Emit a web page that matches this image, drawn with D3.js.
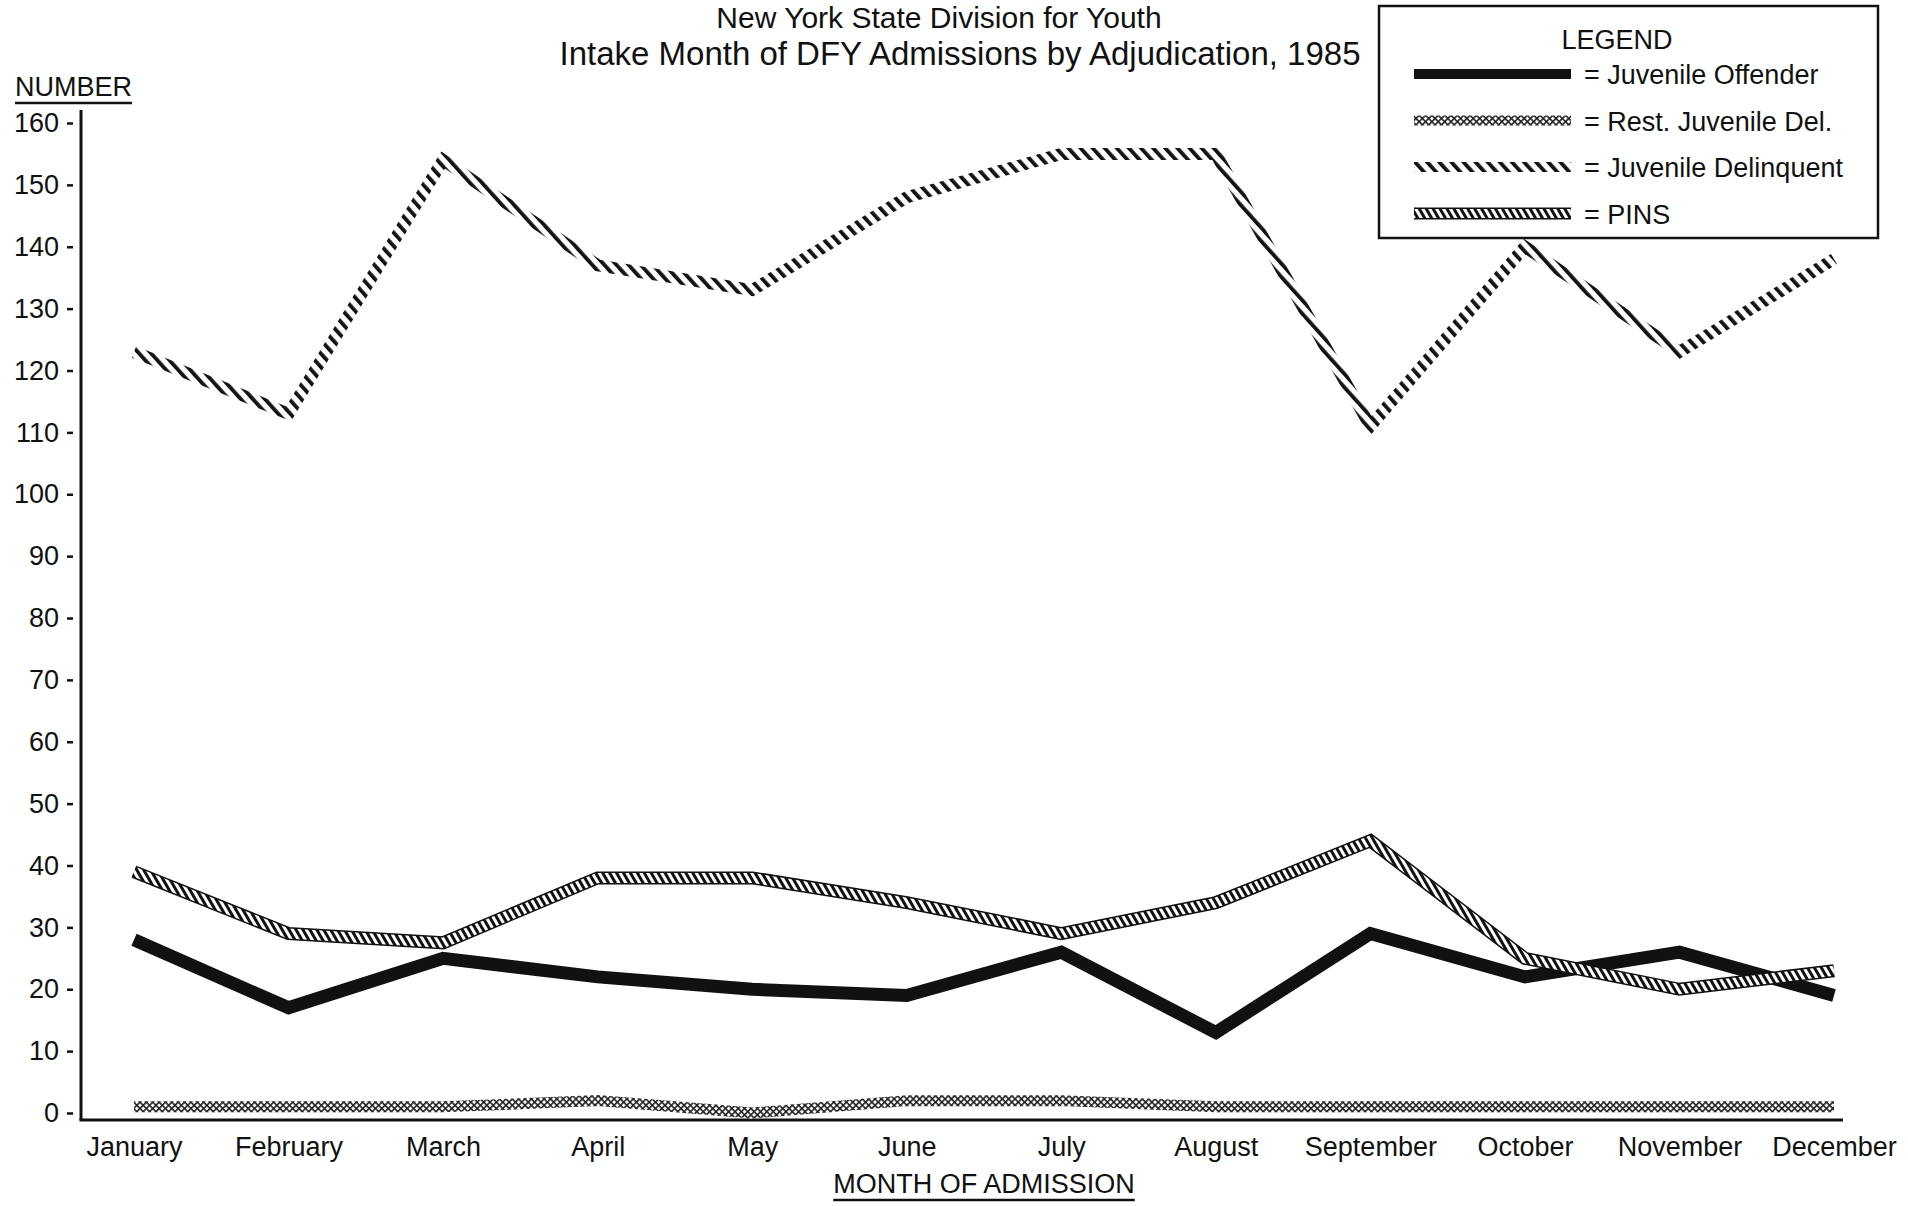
<!DOCTYPE html>
<html>
<head>
<meta charset="utf-8">
<script src="https://cdn.jsdelivr.net/npm/d3@7"></script>
<style>
  body { margin: 0; background: #fff; }
  svg text { font-family: "Liberation Sans", Arial, Helvetica, sans-serif; fill: #111; }
  .axis text { font-size: 27px; }
  .axis line { stroke: #111; stroke-width: 2.5; }
  .title { text-anchor: middle; }
  .label { font-size: 27px; }
  .legend text { font-size: 27px; }
</style>
</head>
<body>
<svg id="chart" width="1908" height="1206"></svg>
<script>
// data
var months = ["January", "February", "March", "April", "May", "June",
              "July", "August", "September", "October", "November", "December"];
var yTicks = [0, 10, 20, 30, 40, 50, 60, 70, 80, 90, 100, 110, 120, 130, 140, 150, 160];

var juvOffender   = [28, 17, 25, 22, 20, 19, 26, 13, 29, 22, 26, 19];
var restJuvDel    = [1, 1, 1, 2, 0, 2, 2, 1, 1, 1, 1, 1];
var juvDelinquent = [123, 113, 154, 137, 133, 148, 155, 155, 111, 140, 123, 138];
var pins          = [39, 29, 27.5, 38, 38, 34, 29, 34, 44, 25, 20, 23];

var seriesNames = ["Juvenile Offender", "Rest. Juvenile Del.", "Juvenile Delinquent", "PINS"];
var titleLines  = ["New York State Division for Youth",
                   "Intake Month of DFY Admissions by Adjudication, 1985"];

var r = {};
r.svg    = d3.select("#chart");
r.W      = +r.svg.attr("width");
r.H      = +r.svg.attr("height");
r.margin = {top: 123, right: 74, bottom: 93, left: 134};
r.axisGap = 53;   // y axis sits left of January

r.x = d3.scalePoint()
    .domain(months)
    .range([r.margin.left, r.W - r.margin.right]);

r.y = d3.scaleLinear()
    .domain([0, 160])
    .range([r.H - r.margin.bottom, r.margin.top]);

var axisX = r.margin.left - r.axisGap,
    baseY = r.y(0) + 7;

// patterns for the hatched lines
var defs = r.svg.append("defs");

var pRjd = defs.append("pattern")
    .attr("id", "pat-rjd")
    .attr("patternUnits", "userSpaceOnUse")
    .attr("width", 4.5).attr("height", 4.5)
    .attr("patternTransform", "rotate(45)");
pRjd.append("rect").attr("width", 4.5).attr("height", 4.5).attr("fill", "#fff");
pRjd.append("rect").attr("width", 4.5).attr("height", 1.6).attr("fill", "#222");
pRjd.append("rect").attr("width", 1.6).attr("height", 4.5).attr("fill", "#222");

var pJd = defs.append("pattern")
    .attr("id", "pat-jd")
    .attr("patternUnits", "userSpaceOnUse")
    .attr("width", 9).attr("height", 20)
    .attr("patternTransform", "rotate(-42)");
pJd.append("rect").attr("width", 3.8).attr("height", 20).attr("fill", "#111");

var pPins = defs.append("pattern")
    .attr("id", "pat-pins")
    .attr("patternUnits", "userSpaceOnUse")
    .attr("width", 6).attr("height", 20)
    .attr("patternTransform", "rotate(-30)");
pPins.append("rect").attr("width", 6).attr("height", 20).attr("fill", "#fff");
pPins.append("rect").attr("width", 3).attr("height", 20).attr("fill", "#111");

var styles = [
  {vals: juvOffender,   stroke: "#111",            width: 13, outline: 0},
  {vals: restJuvDel,    stroke: "url(#pat-rjd)",   width: 11, outline: 0},
  {vals: juvDelinquent, stroke: "url(#pat-jd)",    width: 12, outline: 0},
  {vals: pins,          stroke: "url(#pat-pins)",  width: 10, outline: 13}
];

// title (first line pulled down a little so it is not clipped)
r.svg.selectAll("text.title")
    .data(titleLines)
  .enter().append("text")
    .attr("class", "title")
    .attr("x", function(d, i) { return i === 0 ? 939 : 960; })
    .attr("y", function(d, i) { return i === 0 ? 28 : 65; })
    .style("font-size", function(d, i) { return i === 0 ? "30px" : "33px"; })
    .text(function(d) { return d; });

// y axis
var gy = r.svg.append("g")
    .attr("class", "axis axis--y")
    .attr("transform", "translate(" + (axisX - 8) + ",0)")
    .call(d3.axisLeft(r.y)
            .tickValues(yTicks)
            .tickSizeInner(6)
            .tickSizeOuter(0)
            .tickPadding(8));
gy.select(".domain").remove();

// x axis
var gx = r.svg.append("g")
    .attr("class", "axis axis--x")
    .attr("transform", "translate(0," + baseY + ")")
    .call(d3.axisBottom(r.x).tickSize(0).tickPadding(17));
gx.select(".domain").remove();

r.svg.append("line")
    .attr("x1", axisX).attr("x2", axisX)
    .attr("y1", r.y(160) - 13).attr("y2", baseY)
    .attr("stroke", "#111").attr("stroke-width", 3);
r.svg.append("line")
    .attr("x1", axisX - 1.5).attr("x2", r.x(months[11]) + 9)
    .attr("y1", baseY).attr("y2", baseY)
    .attr("stroke", "#111").attr("stroke-width", 3);

// axis labels, underlined
function underlined(txt, x, y, anchor) {
  var t = r.svg.append("text")
      .attr("class", "label")
      .attr("x", x).attr("y", y)
      .attr("text-anchor", anchor)
      .text(txt);
  var bb = t.node().getBBox();
  r.svg.append("line")
      .attr("x1", bb.x).attr("x2", bb.x + bb.width)
      .attr("y1", y + 7).attr("y2", y + 7)
      .attr("stroke", "#111").attr("stroke-width", 2.5);
}
underlined("NUMBER", 15, 96, "start");
underlined("MONTH OF ADMISSION", 984, 1193, "middle");

// the lines
var line = d3.line()
    .x(function(d, i) { return r.x(months[i]); })
    .y(function(d) { return r.y(d); });

var order = [1, 2, 0, 3];
order.forEach(function(k) {
  var s = styles[k];
  if (s.outline) {
    r.svg.append("path")
        .attr("d", line(s.vals))
        .attr("fill", "none")
        .attr("stroke", "#111")
        .attr("stroke-width", s.outline)
        .attr("stroke-linejoin", "miter");
  }
  r.svg.append("path")
      .attr("class", "series")
      .attr("d", line(s.vals))
      .attr("fill", "none")
      .attr("stroke", s.stroke)
      .attr("stroke-width", s.width)
      .attr("stroke-linejoin", "miter");
});

// legend
var lg = r.svg.append("g").attr("class", "legend");
lg.append("rect")
    .attr("x", 1379).attr("y", 6)
    .attr("width", 499).attr("height", 232)
    .attr("fill", "#fff")
    .attr("stroke", "#111").attr("stroke-width", 2.5);
lg.append("text")
    .attr("x", 1617).attr("y", 49)
    .attr("text-anchor", "middle")
    .text("LEGEND");

var rows = lg.selectAll("g.row")
    .data(seriesNames)
  .enter().append("g")
    .attr("class", "row")
    .attr("transform", function(d, i) { return "translate(0," + (74 + i * 46.5) + ")"; });

rows.each(function(d, i) {
  var s = styles[i], g = d3.select(this);
  if (s.outline) {
    g.append("line")
        .attr("x1", 1414).attr("x2", 1571)
        .attr("stroke", "#111").attr("stroke-width", s.outline - 1);
  }
  g.append("line")
      .attr("x1", 1414).attr("x2", 1571)
      .attr("stroke", s.stroke)
      .attr("stroke-width", s.outline ? s.width - 1 : 10);
  g.append("text")
      .attr("x", 1584).attr("y", 10)
      .text("= " + d);
});
</script>
</body>
</html>
